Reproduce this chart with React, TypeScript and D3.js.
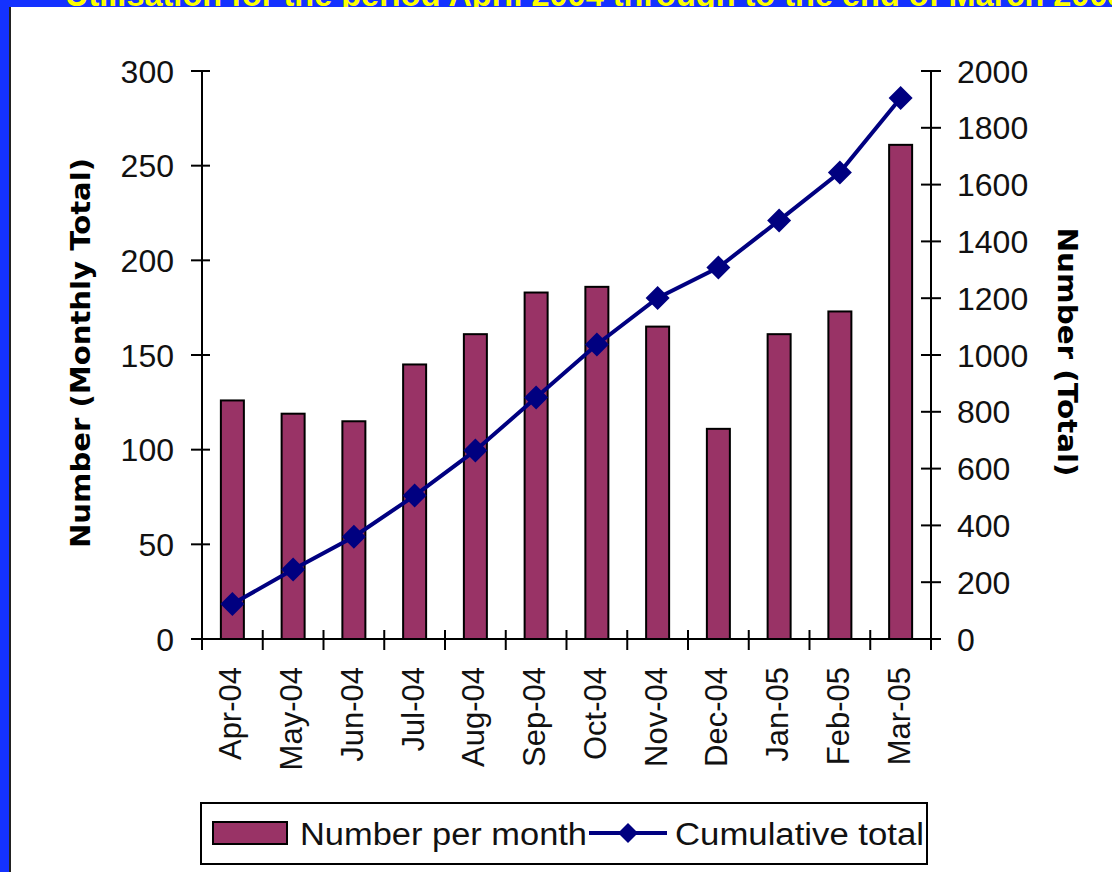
import React from "react";
import * as d3 from "d3";

const categories = ["Apr-04","May-04","Jun-04","Jul-04","Aug-04","Sep-04","Oct-04","Nov-04","Dec-04","Jan-05","Feb-05","Mar-05"];
const monthly = [126, 119, 115, 145, 161, 183, 186, 165, 111, 161, 173, 261];
const cumulative = [123, 245, 360, 505, 664, 850, 1037, 1201, 1308, 1474, 1643, 1905];
const leftTicks = [0, 50, 100, 150, 200, 250, 300];
const rightTicks = [0, 200, 400, 600, 800, 1000, 1200, 1400, 1600, 1800, 2000];
const seriesNames = ["Number per month", "Cumulative total"];
const titleText = "Utilisation for the period April 2004 through to the end of March 2005";

const W = 1112, H = 872;
const X0 = 202, X1 = 931, Y0 = 639, YT = 71;
const BAR = "#993366";
const NAVY = "#000080";
const BLUE = "#1432FF";
const FONT = "'Liberation Sans', Arial, sans-serif";
const BFONT = "'DejaVu Sans', Verdana, sans-serif";

function diamond(cx: number, cy: number, r: number) {
  return `M${cx},${cy - r}L${cx + r},${cy}L${cx},${cy + r}L${cx - r},${cy}Z`;
}

export default function App() {
  const x = d3.scaleBand<string>().domain(categories).range([X0, X1]).padding(0);
  const yL = d3.scaleLinear().domain([0, 300]).range([Y0, YT]);
  const yR = d3.scaleLinear().domain([0, 2000]).range([Y0, YT]);
  const bw = x.bandwidth();
  const barW = 23;
  const cx = (c: string) => (x(c) as number) + bw / 2;
  const line = d3.line<number>().x((_, i) => cx(categories[i])).y((d) => yR(d));

  return (
    <svg width={W} height={H} style={{ position: "absolute", left: 0, top: 0, display: "block" }}>
      <rect x={0} y={0} width={W} height={H} fill={BLUE} />
      <text x={65} y={6} fill="#FFFF00" fontFamily={FONT} fontWeight="bold" fontSize={32.5}>{titleText}</text>
      <rect x={11} y={7} width={W - 11} height={H - 7} fill="#fff" />
      <rect x={9} y={7} width={2} height={H - 7} fill="#222" />

      {/* bars */}
      {monthly.map((v, i) => (
        <rect key={i} x={cx(categories[i]) - barW / 2} y={yL(v)} width={barW} height={Y0 - yL(v)}
          fill={BAR} stroke="#000" strokeWidth={2} />
      ))}

      {/* left axis */}
      <line x1={X0} x2={X0} y1={YT} y2={Y0} stroke="#000" strokeWidth={2} />
      {leftTicks.map((t) => (
        <g key={t}>
          <line x1={X0 - 11} x2={X0 + 8} y1={yL(t)} y2={yL(t)} stroke="#000" strokeWidth={2} />
          <text x={174} y={yL(t)} dy="0.36em" textAnchor="end" fontFamily={FONT} fontSize={32} fill="#111">{t}</text>
        </g>
      ))}
      {/* right axis */}
      <line x1={X1} x2={X1} y1={YT} y2={Y0} stroke="#000" strokeWidth={2} />
      {rightTicks.map((t) => (
        <g key={t}>
          <line x1={X1 - 10} x2={X1 + 10} y1={yR(t)} y2={yR(t)} stroke="#000" strokeWidth={2} />
          <text x={957} y={yR(t)} dy="0.36em" textAnchor="start" fontFamily={FONT} fontSize={32} fill="#111">{t}</text>
        </g>
      ))}
      {/* x axis */}
      <line x1={X0} x2={X1} y1={Y0} y2={Y0} stroke="#000" strokeWidth={2} />
      {categories.concat([""]).map((c, i) => {
        const xx = X0 + i * bw;
        return <line key={"t" + i} x1={xx} x2={xx} y1={Y0 - 9} y2={Y0 + 11} stroke="#000" strokeWidth={2} />;
      })}
      {categories.map((c) => (
        <text key={c} transform={`translate(${cx(c) + 9},${667}) rotate(-90)`} textAnchor="end"
          fontFamily={FONT} fontSize={31} fill="#111">{c}</text>
      ))}

      {/* cumulative line */}
      <path d={line(cumulative) || ""} fill="none" stroke={NAVY} strokeWidth={4} />
      {cumulative.map((v, i) => (
        <path key={i} d={diamond(cx(categories[i]), yR(v), 12)} fill={NAVY} />
      ))}

      {/* axis titles */}
      <text transform={`translate(90,353) rotate(-90)`} textAnchor="middle" fontFamily={BFONT} fontWeight="bold"
        fontSize={26} textLength={390} lengthAdjust="spacingAndGlyphs" fill="#000">Number (Monthly Total)</text>
      <text transform={`translate(1058,352) rotate(90)`} textAnchor="middle" fontFamily={BFONT} fontWeight="bold"
        fontSize={26} textLength={249} lengthAdjust="spacingAndGlyphs" fill="#000">Number (Total)</text>

      {/* legend */}
      <rect x={201} y={803} width={726} height={61} fill="#fff" stroke="#000" strokeWidth={2} />
      <rect x={213} y={822} width={74} height={22} fill={BAR} stroke="#000" strokeWidth={2} />
      <text x={300} y={845} fontFamily={FONT} fontSize={31} textLength={287} lengthAdjust="spacingAndGlyphs" fill="#111">{seriesNames[0]}</text>
      <line x1={589} x2={667} y1={833} y2={833} stroke={NAVY} strokeWidth={4} />
      <path d={diamond(628, 833, 10)} fill={NAVY} />
      <text x={675} y={845} fontFamily={FONT} fontSize={31} textLength={249} lengthAdjust="spacingAndGlyphs" fill="#111">{seriesNames[1]}</text>
    </svg>
  );
}
